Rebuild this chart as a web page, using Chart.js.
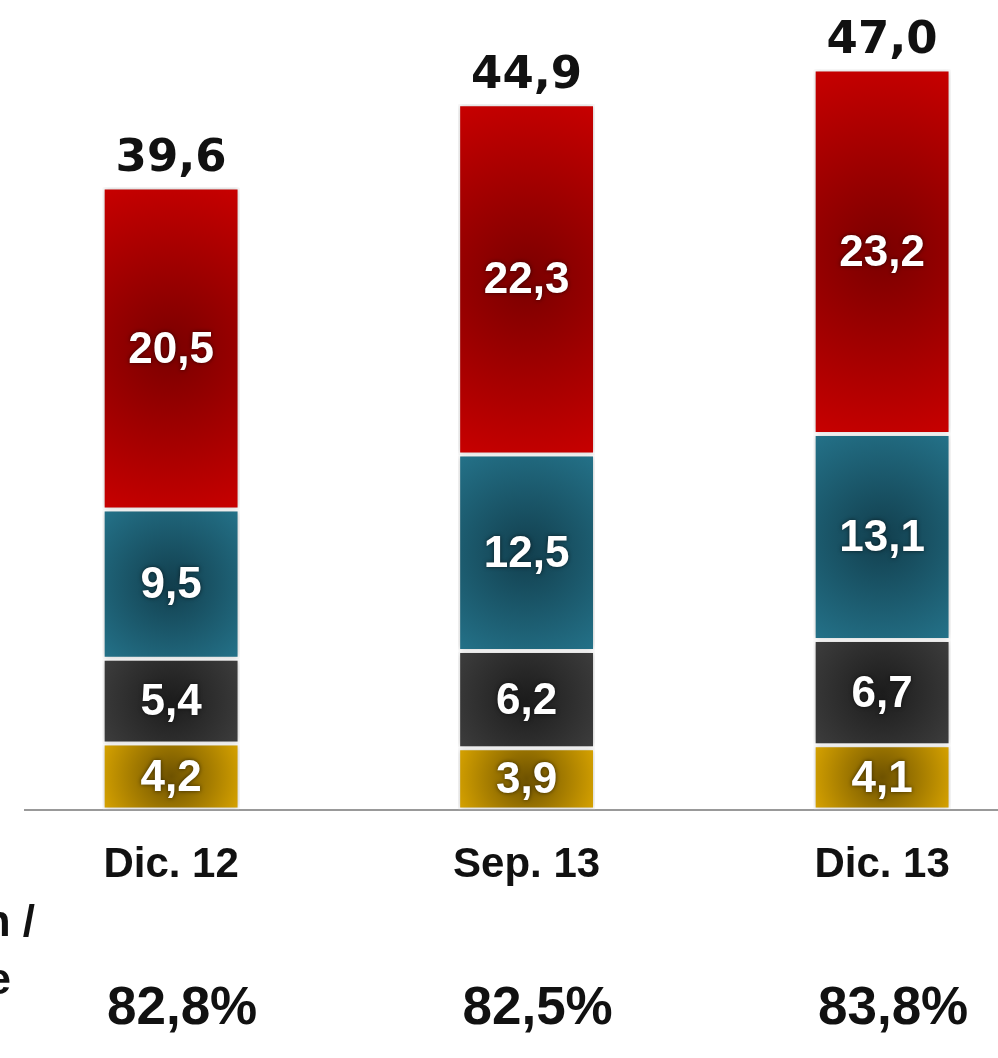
<!DOCTYPE html>
<html>
<head>
<meta charset="utf-8">
<script src="https://cdn.jsdelivr.net/npm/chart.js@4.4.1/dist/chart.umd.min.js"></script>
<style>
  html, body { margin: 0; padding: 0; background: #ffffff; overflow: hidden; }
  #wrap { position: absolute; left: 0; top: 0; width: 998px; height: 1058px; }
</style>
</head>
<body>
<div id="wrap"><canvas id="c" width="998" height="1058"></canvas></div>
<script>
// ---- data ----
const categories = ['Dic. 12', 'Sep. 13', 'Dic. 13'];
const goldValues = [4.2, 3.9, 4.1];
const darkValues = [5.4, 6.2, 6.7];
const tealValues = [9.5, 12.5, 13.1];
const redValues  = [20.5, 22.3, 23.2];
const totals     = [39.6, 44.9, 47.0];
const ratios     = [82.8, 82.5, 83.8];
const sideLabels = ['Participación /', 'cuota de'];

const fmt = v => v.toFixed(1).replace('.', ',');
const SANS = '"Liberation Sans", Arial, sans-serif';

function radial(edge, center) {
  return (c) => {
    const chart = c.chart;
    if (c.type !== 'data' || !chart.chartArea) return edge;
    const xs = chart.scales.x, ys = chart.scales.y;
    const i = c.datasetIndex, j = c.dataIndex;
    let base = 0;
    for (let k = 0; k < i; k++) base += chart.data.datasets[k].data[j].y;
    const v = chart.data.datasets[i].data[j].y;
    const cx = xs.getPixelForValue(j);
    const y0 = ys.getPixelForValue(base), y1 = ys.getPixelForValue(base + v);
    const cy = (y0 + y1) / 2, h = Math.abs(y0 - y1), w = 133;
    const r = Math.sqrt(w * w + h * h) / 2;
    const g = chart.ctx.createRadialGradient(cx, cy, 0, cx, cy, r);
    g.addColorStop(0, center);
    g.addColorStop(1, edge);
    return g;
  };
}

const toPoints = arr => arr.map((v, i) => ({ x: i, y: v }));

const common = { borderColor: '#ffffff', borderWidth: 2, borderSkipped: false,
                 barPercentage: 0.385, categoryPercentage: 1 };

const shadowPlugin = {
  id: 'shadow',
  beforeDatasetsDraw(chart) {
    const ctx = chart.ctx;
    ctx.save();
    ctx.shadowColor = 'rgba(0,0,0,0.22)';
    ctx.shadowBlur = 6;
    ctx.shadowOffsetX = 0;
    ctx.shadowOffsetY = 0;
  },
  afterDatasetsDraw(chart) {
    chart.ctx.restore();
  }
};

const labelPlugin = {
  id: 'labels',
  afterDatasetsDraw(chart) {
    const ctx = chart.ctx;
    ctx.save();
    ctx.textAlign = 'center';
    ctx.textBaseline = 'middle';
    // inside labels
    ctx.font = 'bold 44px ' + SANS;
    ctx.fillStyle = '#ffffff';
    ctx.shadowColor = 'rgba(0,0,0,0.6)';
    ctx.shadowBlur = 4;
    chart.data.datasets.forEach((ds, i) => {
      const meta = chart.getDatasetMeta(i);
      meta.data.forEach((el, j) => {
        ctx.fillText(fmt(ds.data[j].y), el.x, (el.y + el.base) / 2 + 2);
      });
    });
    ctx.shadowBlur = 0;
    ctx.shadowColor = 'transparent';
    // totals on top
    const topMeta = chart.getDatasetMeta(chart.data.datasets.length - 1);
    ctx.font = 'bold 45px "DejaVu Sans", sans-serif';
    ctx.fillStyle = '#111111';
    topMeta.data.forEach((el, j) => {
      ctx.fillText(fmt(totals[j]), el.x, el.y - 28);
    });
    // ratios row
    const xs = chart.scales.x;
    ctx.font = 'bold 53px ' + SANS;
    ratios.forEach((r, j) => {
      ctx.fillText(fmt(r) + '%', xs.getPixelForValue(j) + 11, 1009);
    });
    // cut-off side labels
    ctx.textAlign = 'right';
    ctx.font = 'bold 44px ' + SANS;
    ctx.fillText(sideLabels[0], 35, 924);
    ctx.fillText(sideLabels[1], 11, 982);
    ctx.restore();
  }
};

new Chart(document.getElementById('c'), {
  type: 'bar',
  data: {
    datasets: [
      Object.assign({ label: 'gold', data: toPoints(goldValues), backgroundColor: radial('#d6a200', '#6e5200') }, common),
      Object.assign({ label: 'dark', data: toPoints(darkValues), backgroundColor: radial('#3d3d3d', '#1c1c1c') }, common),
      Object.assign({ label: 'teal', data: toPoints(tealValues), backgroundColor: radial('#247289', '#123f4e') }, common),
      Object.assign({ label: 'red',  data: toPoints(redValues),  backgroundColor: radial('#c80000', '#7a0000') }, common)
    ]
  },
  options: {
    responsive: false,
    devicePixelRatio: 1,
    animation: false,
    layout: { padding: { left: 25, right: 0, top: 0, bottom: 144 } },
    plugins: { legend: { display: false }, tooltip: { enabled: false } },
    scales: {
      x: {
        type: 'linear', stacked: true, min: -0.411, max: 2.326, offset: false,
        grid: { display: false },
        border: { display: true, color: '#999999', width: 2 },
        afterBuildTicks: s => { s.ticks = categories.map((_, i) => ({ value: i })); },
        ticks: {
          autoSkip: false, maxRotation: 0, padding: 23, color: '#111111',
          font: { family: SANS, size: 42, weight: 'bold' },
          callback: v => categories[v]
        }
      },
      y: { stacked: true, display: false, min: 0, max: 51.53 }
    }
  },
  plugins: [shadowPlugin, labelPlugin]
});
</script>
</body>
</html>
